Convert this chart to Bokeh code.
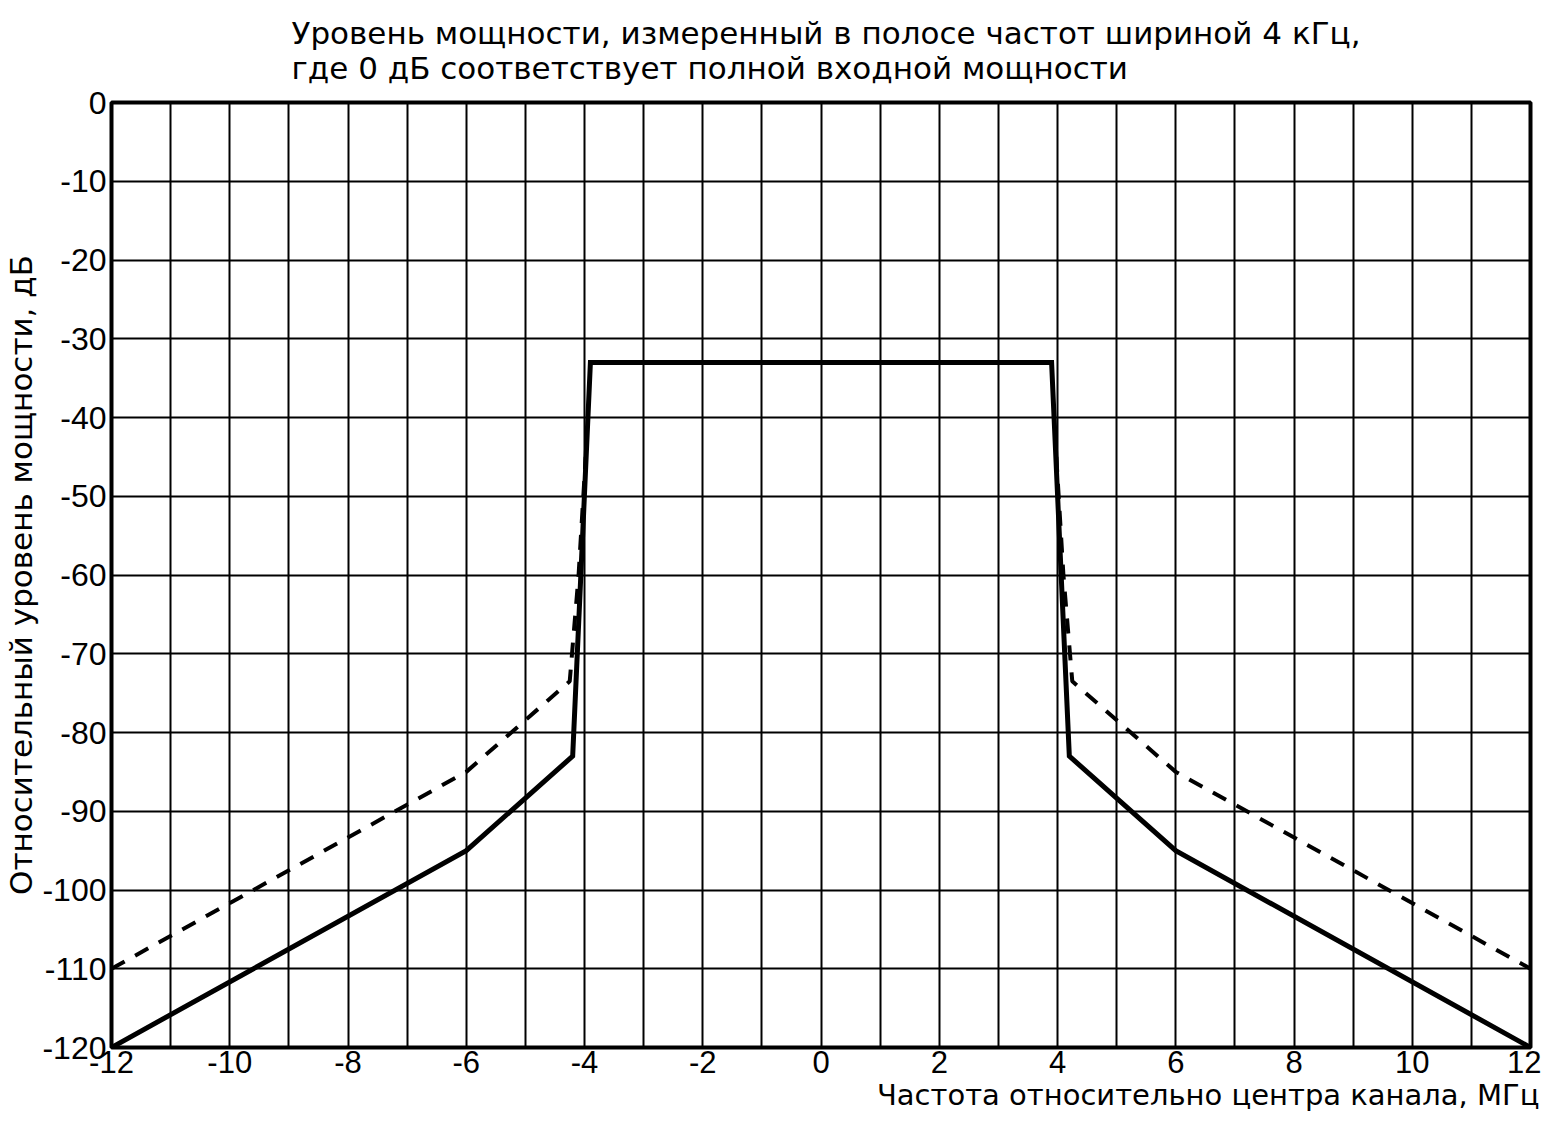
import math
from bokeh.plotting import figure
from bokeh.models import Range1d, FixedTicker, Title
from bokeh.embed import file_html
from bokeh.resources import INLINE

# ---- data ----
solid_x = [-12, -6, -4.2, -3.9, 3.9, 4.2, 6, 12]
solid_y = [-120, -95, -83, -33, -33, -83, -95, -120]

dash_left_x = [-12, -6, -4.25, -4.1, -3.98]
dash_left_y = [-110, -85, -73.5, -60, -45]
dash_right_x = [3.98, 4.1, 4.25, 6, 12]
dash_right_y = [-45, -60, -73.5, -85, -110]

x_ticks = [-12, -10, -8, -6, -4, -2, 0, 2, 4, 6, 8, 10, 12]
x_grid = list(range(-12, 13))
y_ticks = [-120, -110, -100, -90, -80, -70, -60, -50, -40, -30, -20, -10, 0]

title_lines = ["Уровень мощности, измеренный в полосе частот шириной 4 кГц,",
               "где 0 дБ соответствует полной входной мощности"]
y_label = "Относительный уровень мощности, дБ"
x_label = "Частота относительно центра канала, МГц"

TICK_FONT = "Liberation Sans"
TEXT_FONT = "DejaVu Sans"

p = figure(width=1541, height=1120, output_backend="svg", toolbar_location=None,
           x_range=Range1d(-12, 12), y_range=Range1d(-120, 0),
           min_border_left=110, min_border_right=11, min_border_top=101, min_border_bottom=73)
p.background_fill_color = "white"
p.border_fill_color = "white"
p.outline_line_color = "black"
p.outline_line_width = 4

p.xaxis.ticker = FixedTicker(ticks=x_ticks)
p.yaxis.ticker = FixedTicker(ticks=y_ticks)
p.xaxis.major_label_overrides = {t: str(t) for t in x_ticks}
p.yaxis.major_label_overrides = {t: str(t) for t in y_ticks}
for ax in (p.xaxis[0], p.yaxis[0]):
    ax.axis_line_color = None
    ax.major_tick_line_color = None
    ax.minor_tick_line_color = None
    ax.major_tick_out = 0
    ax.major_tick_in = 0
    ax.major_label_text_font = TICK_FONT
    ax.major_label_text_color = "black"
p.xaxis.major_label_text_font_size = "31px"
p.yaxis.major_label_text_font_size = "32px"
p.xaxis.major_label_standoff = 3
p.yaxis.major_label_standoff = 5

p.yaxis.axis_label = y_label
p.yaxis.axis_label_text_font = TEXT_FONT
p.yaxis.axis_label_text_font_size = "31px"
p.yaxis.axis_label_text_font_style = "normal"
p.yaxis.axis_label_text_color = "black"
p.yaxis.axis_label_standoff = 0

p.xgrid.ticker = FixedTicker(ticks=x_grid)
p.ygrid.ticker = FixedTicker(ticks=y_ticks)
for g in (p.xgrid[0], p.ygrid[0]):
    g.grid_line_color = "black"
    g.grid_line_width = 2
    g.grid_line_alpha = 1

p.line(solid_x, solid_y, line_color="black", line_width=5, line_join="miter")
p.line(dash_left_x, dash_left_y, line_color="black", line_width=4, line_dash="15 12")
p.line(dash_right_x, dash_right_y, line_color="black", line_width=4, line_dash="15 12")

p.add_layout(Title(text="\n".join(title_lines), align="left", offset=180,
                   text_font=TEXT_FONT, text_font_size="31px", text_font_style="normal",
                   text_color="black", text_line_height=0.97, standoff=29,
                   vertical_align="top"), "above")
p.add_layout(Title(text=x_label, align="right", offset=-9,
                   text_font=TEXT_FONT, text_font_size="29px", text_font_style="normal",
                   text_color="black", standoff=0), "below")

open("out.html", "w").write(file_html(p, INLINE))
